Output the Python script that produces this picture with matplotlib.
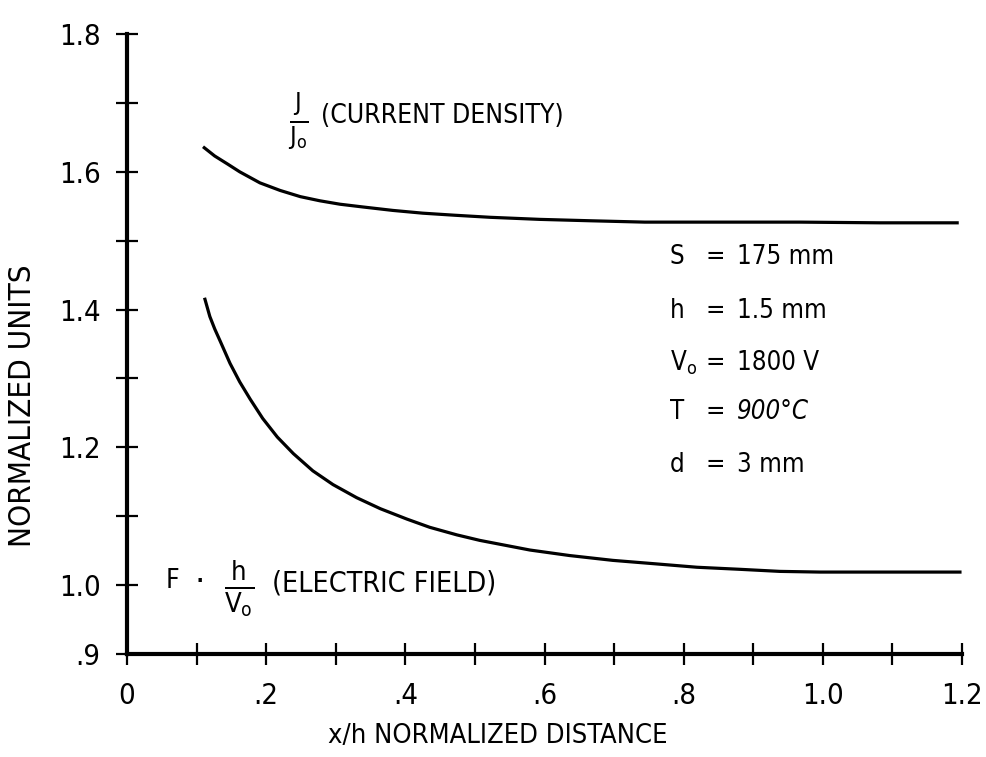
import numpy as np
import matplotlib
matplotlib.use('Agg')
import matplotlib.pyplot as plt

# Values
x_current = [0.111, 0.126, 0.145, 0.162, 0.191, 0.220, 0.249, 0.277, 0.306, 0.339, 0.382,
             0.425, 0.471, 0.522, 0.593, 0.665, 0.744, 0.823, 0.967, 1.082, 1.193]
y_current = [1.635, 1.623, 1.611, 1.600, 1.584, 1.573, 1.564, 1.558, 1.553, 1.549, 1.544,
             1.540, 1.537, 1.534, 1.531, 1.529, 1.527, 1.527, 1.527, 1.526, 1.526]

x_field = [0.112, 0.119, 0.126, 0.134, 0.148, 0.162, 0.177, 0.195, 0.216, 0.239, 0.267,
           0.296, 0.330, 0.364, 0.402, 0.435, 0.474, 0.507, 0.579, 0.636, 0.698, 0.759,
           0.819, 0.881, 0.938, 0.996, 1.057, 1.125, 1.197]
y_field = [1.415, 1.390, 1.372, 1.354, 1.322, 1.295, 1.270, 1.242, 1.215, 1.191, 1.166,
           1.146, 1.127, 1.111, 1.096, 1.084, 1.073, 1.065, 1.051, 1.043, 1.036, 1.031,
           1.026, 1.023, 1.020, 1.019, 1.019, 1.019, 1.019]

x_major = [0, 0.2, 0.4, 0.6, 0.8, 1.0, 1.2]
x_major_labels = ['0', '.2', '.4', '.6', '.8', '1.0', '1.2']
x_minor = [0.1, 0.3, 0.5, 0.7, 0.9, 1.1]
y_major = [0.9, 1.0, 1.2, 1.4, 1.6, 1.8]
y_major_labels = ['.9', '1.0', '1.2', '1.4', '1.6', '1.8']
y_minor = [1.1, 1.3, 1.5, 1.7]

param_names = ['S', 'h', r'V$_\mathregular{o}$', 'T', 'd']
param_values = ['175 mm', '1.5 mm', '1800 V', '900°C', '3 mm']

plt.rcParams['font.family'] = ['DejaVu Sans']
plt.rcParams['font.stretch'] = 'condensed'
plt.rcParams['mathtext.fontset'] = 'dejavusans'

fig = plt.figure(figsize=(9.87, 7.57), dpi=100)
ax = fig.add_axes([0.1287, 0.136, 0.846, 0.819])

ax.plot(x_current, y_current, color='black', lw=2.3, clip_on=False, solid_joinstyle='round')
ax.plot(x_field, y_field, color='black', lw=2.3, clip_on=False, solid_joinstyle='round')

ax.set_xlim(0, 1.2)
ax.set_ylim(0.9, 1.8)
for s in ['top', 'right']:
    ax.spines[s].set_visible(False)
for s in ['left', 'bottom']:
    ax.spines[s].set_linewidth(3)

ax.set_xticks(x_major)
ax.set_xticklabels(x_major_labels)
ax.set_xticks(x_minor, minor=True)
ax.set_yticks(y_major)
ax.set_yticklabels(y_major_labels)
ax.set_yticks(y_minor, minor=True)
ax.tick_params(which='both', direction='inout', length=16, width=1.6, labelsize=21)
ax.tick_params(axis='x', which='both', pad=12)
ax.tick_params(axis='y', which='both', pad=11)

ax.set_xlabel('x/h NORMALIZED DISTANCE', fontsize=19.5)
ax.xaxis.set_label_coords(0.444, -0.111)
ax.set_ylabel('NORMALIZED UNITS', fontsize=22.5)
ax.yaxis.set_label_coords(-0.108, 0.40)

# curve labels
ax.text(0.246, 1.674, r'$\mathregular{\frac{J}{J_o}}$', fontsize=26, ha='center', va='center')
ax.text(0.279, 1.681, '(CURRENT DENSITY)', fontsize=19, ha='left', va='center')

ax.text(0.055, 1.006, 'F', fontsize=19, ha='left', va='center')
ax.text(0.105, 1.004, '·', fontsize=26, ha='center', va='center')
ax.text(0.161, 0.995, r'$\mathregular{\frac{h}{V_o}}$', fontsize=28, ha='center', va='center')
ax.text(0.208, 1.003, '(ELECTRIC FIELD)', fontsize=20.5, ha='left', va='center')

# parameter block
row_y = [1.477, 1.398, 1.323, 1.251, 1.174]
for name, val, yy in zip(param_names, param_values, row_y):
    ax.text(0.780, yy, name, fontsize=18.5, ha='left', va='center')
    ax.text(0.845, yy, '=', fontsize=18.5, ha='center', va='center')
    ax.text(0.876, yy, val, fontsize=18.5, ha='left', va='center',
            style='italic' if name == 'T' else 'normal')

plt.savefig('out.png', dpi=100)
